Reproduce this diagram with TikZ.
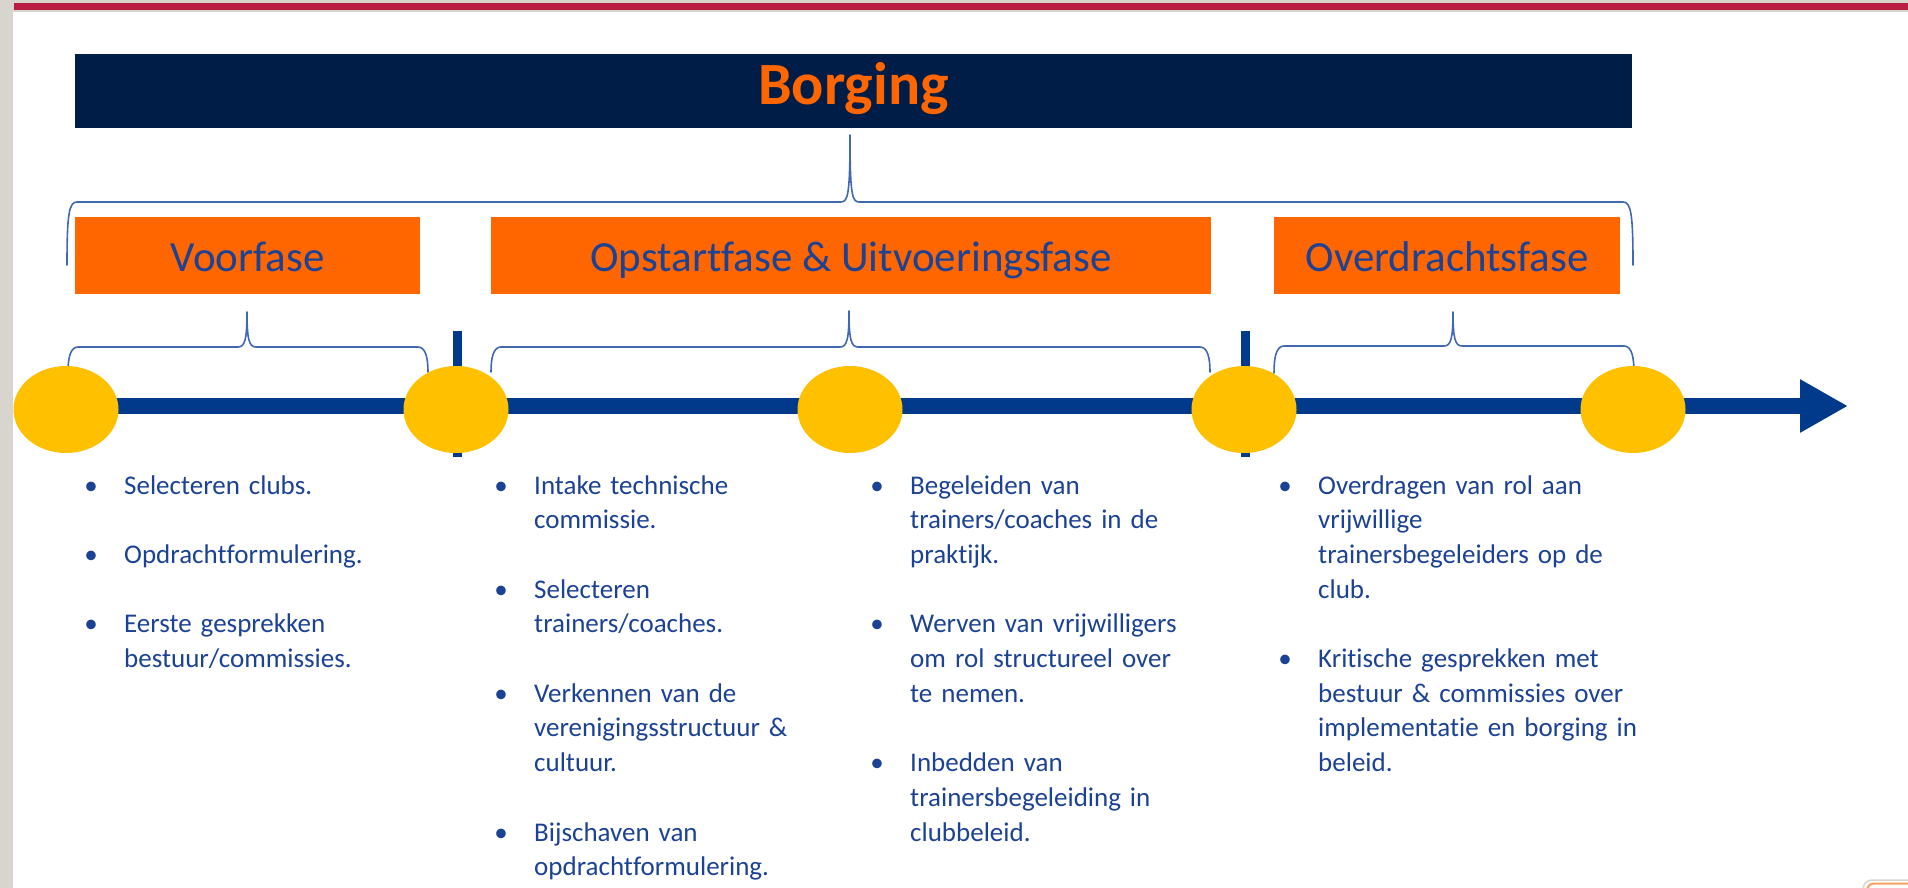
\documentclass[tikz,border=0pt]{standalone}
\usepackage{fontspec}
\setmainfont{Carlito}[Ligatures=NoCommon]
\usetikzlibrary{shapes.geometric,arrows.meta}
\definecolor{navy}{HTML}{001D47}
\definecolor{orng}{HTML}{FF6600}
\definecolor{gold}{HTML}{FFC000}
\definecolor{tline}{HTML}{013A8B}
\definecolor{txtblue}{HTML}{1B4294}
\definecolor{bracecol}{HTML}{4169B3}
\definecolor{topred}{HTML}{B81D42}
\definecolor{framegray}{HTML}{D8D4CE}
\definecolor{btnorange}{HTML}{F9A060}
\pgfdeclarelayer{backdrop}
\pgfdeclarelayer{timeline}
\pgfsetlayers{backdrop,timeline,main}
\tikzset{
  titlebar/.style={fill=navy, draw=none, minimum width=1557pt, minimum height=74pt, inner sep=0pt,
    text=orng, font=\fontsize{60}{70}\selectfont\bfseries, text height=28pt, text depth=0pt},
  phasebox/.style={fill=orng, draw=none, minimum height=77pt, inner sep=0pt,
    text=txtblue, font=\fontsize{43}{50}\selectfont, text height=31pt, text depth=0pt},
  milestone/.style={ellipse, fill=gold, draw=none, minimum width=105pt, minimum height=87pt, inner sep=0pt},
  bracestyle/.style={draw=bracecol, line width=1.6pt, line join=round, line cap=round},
  tickmark/.style={draw=tline, line width=9pt},
  itemcol/.style={anchor=base west, text width=420pt, align=left, inner sep=0pt, text=txtblue,
    font=\fontsize{27}{34.7}\selectfont},
}
\newcommand{\bul}{\leavevmode\llap{\makebox[0pt][c]{\textbullet}\hspace{33pt}}}
\newcommand{\gap}{\par\vspace{34.7pt}}
% #1 left x, #2 right x, #3 tip x, #4 horizontal y, #5 end y, #6 tip y
\newcommand{\phbrace}[6]{%
  \draw[bracestyle] (#1,#5) .. controls (#1,{#4+12}) and ({#1+2},#4) .. ({#1+10},#4)
    -- ({#3-9},#4) .. controls ({#3-2},#4) and (#3,{#4-8}) .. (#3,#6)
    .. controls (#3,{#4-8}) and ({#3+2},#4) .. ({#3+9},#4)
    -- ({#2-10},#4) .. controls ({#2-2},#4) and (#2,{#4+12}) .. (#2,#5);}
\begin{document}
\begin{tikzpicture}[x=1pt,y=-1pt]
\useasboundingbox (0,0) rectangle (1908,888);
\begin{pgfonlayer}{backdrop}
\fill[white] (0,0) rectangle (1908,888);
\fill[framegray] (0,0) rectangle (1908,12);
\fill[topred] (14,3.3) rectangle (1908,10.5);
\fill[framegray] (0,0) rectangle (13,888);
\end{pgfonlayer}
\begin{scope}
  \clip (0,0) rectangle (1908,888);
  \draw[framegray, line width=1.5pt, rounded corners=9pt] (1863,880) rectangle (1950,940);
  \draw[btnorange, line width=2pt, rounded corners=7pt] (1867,883.5) rectangle (1950,940);
\end{scope}
% title
\node[titlebar] (borg) at (853.5,91) {Borging};
% top brace
\phbrace{67}{1633}{850}{202}{265}{135}
% phase boxes
\node[phasebox, minimum width=345pt] (voor) at (247.5,255.5) {Voorfase};
\node[phasebox, minimum width=720pt] (opst) at (851,255.5) {Opstartfase \& Uitvoeringsfase};
\node[phasebox, minimum width=345.5pt] (over) at (1447,255.5) {Overdrachtsfase};
% lower braces
\phbrace{68}{428}{247}{347}{372}{312}
\phbrace{491}{1210}{849}{347}{372}{311}
\phbrace{1274}{1634}{1453}{346}{373}{312}
% ticks
\draw[tickmark] (457,331) -- (457,457);
\draw[tickmark] (1245,331) -- (1245,457);
% milestones
\node[milestone] (m1) at (66,409.5) {};
\node[milestone] (m2) at (456,409.5) {};
\node[milestone] (m3) at (850,409.5) {};
\node[milestone] (m4) at (1244,409.5) {};
\node[milestone] (m5) at (1633,409.5) {};
\coordinate (tip) at (1848,406);
\begin{pgfonlayer}{timeline}
\draw[tline, line width=16pt, -{Triangle[length=48pt,width=50pt]}] (m1.center |- tip) -- (tip);
\end{pgfonlayer}
% columns
\node[itemcol] (c1) at (124,494) {%
\bul Selecteren clubs.\gap
\bul Opdrachtformulering.\gap
\bul Eerste gesprekken\\bestuur/commissies.};
\node[itemcol] (c2) at (534,494) {%
\bul Intake technische\\commissie.\gap
\bul Selecteren\\trainers/coaches.\gap
\bul Verkennen van de\\verenigingsstructuur \&\\cultuur.\gap
\bul Bijschaven van\\opdrachtformulering.};
\node[itemcol] (c3) at (910,494) {%
\bul Begeleiden van\\trainers/coaches in de\\praktijk.\gap
\bul Werven van vrijwilligers\\om rol structureel over\\te nemen.\gap
\bul Inbedden van\\trainersbegeleiding in\\clubbeleid.};
\node[itemcol] (c4) at (1318,494) {%
\bul Overdragen van rol aan\\vrijwillige\\trainersbegeleiders op de\\club.\gap
\bul Kritische gesprekken met\\bestuur \& commissies over\\implementatie en borging in\\beleid.};
\end{tikzpicture}
\end{document}
